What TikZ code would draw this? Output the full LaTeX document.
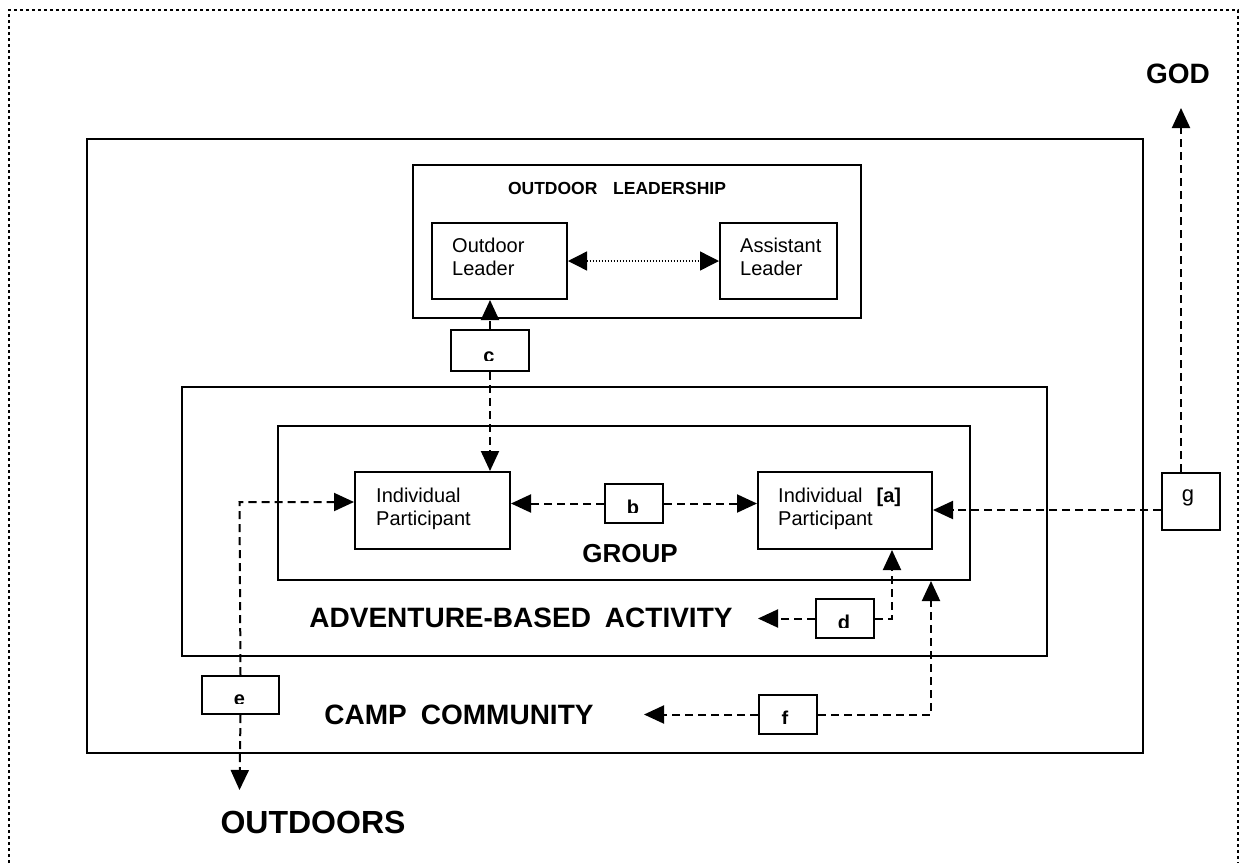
\documentclass[tikz,border=0pt]{standalone}
\usepackage{fontspec}
\setmainfont{Liberation Sans}
\usetikzlibrary{arrows.meta}

\begin{document}
\begin{tikzpicture}[x=1pt, y=-1pt,
  frame/.style={draw, line width=2pt, inner sep=0pt, anchor=north west},
  border/.style={draw, line width=2.8pt, dash pattern=on 2.8pt off 3.2pt},
  link/.style={line width=2pt, dash pattern=on 8pt off 5pt},
  tip/.style={-{Triangle[length=20pt,width=18pt]}},
  leaders/.style={line width=1.4pt, dash pattern=on 1.4pt off 1.6pt,
    {Triangle[length=19pt,width=19pt]}-{Triangle[length=19pt,width=19pt]}},
  lbl/.style={font=\fontsize{20}{23}\selectfont, inner sep=0pt, anchor=north west, align=left},
  head/.style={inner sep=0pt, anchor=base},
  tagletter/.style={inner sep=0pt, anchor=base, font=\bfseries\fontsize{20}{22}\selectfont}]

\useasboundingbox (0,0) rectangle (1245,863);

% page frame, open at the foot
\draw[border] (9,863) -- (9,10) -- (1238,10) -- (1238,863);

% nested settings
\node[frame, minimum width=1056, minimum height=614] (camp) at (86,138) {};
\node[frame, minimum width=865, minimum height=269] (adv) at (181,386) {};
\node[frame, minimum width=692, minimum height=154] (grp) at (277,425) {};
\node[frame, minimum width=448, minimum height=153] (lead) at (412,164) {};

% people
\node[frame, minimum width=135, minimum height=76] (ol) at (431,222) {};
\node[frame, minimum width=117, minimum height=76] (al) at (719,222) {};
\node[frame, minimum width=155, minimum height=77] (ipl) at (354,471) {};
\node[frame, minimum width=174, minimum height=77] (ipr) at (757,471) {};

\node[lbl] (olt) at (452,237.5) {Outdoor\\Leader};
\node[lbl] (alt) at (740,237.5) {Assistant\\Leader};
\node[lbl] (iplt) at (376,487.5) {Individual\\Participant};
\node[lbl] (iprt) at (778,487.5) {Individual\hspace{0.7em}\textbf{[a]}\\Participant};

% relation tags
\node[frame, minimum width=78, minimum height=41] (c) at (450,329) {};
\node[frame, minimum width=58, minimum height=39] (b) at (604,483) {};
\node[frame, minimum width=58, minimum height=39] (d) at (815,598) {};
\node[frame, minimum width=77, minimum height=38] (e) at (201,675) {};
\node[frame, minimum width=58, minimum height=39] (f) at (758,694) {};
\node[frame, minimum width=58, minimum height=57] (g) at (1161,472) {};

% tag letters, cut off by the text frame of each tag
\begin{scope}\clip (450,329) rectangle (528,360);
  \node[tagletter] (cl) at (489,362) {c};\end{scope}
\begin{scope}\clip (604,483) rectangle (662,512);
  \node[tagletter] (bl) at (633,514) {b};\end{scope}
\begin{scope}\clip (815,598) rectangle (873,627);
  \node[tagletter] (dl) at (844,629) {d};\end{scope}
\begin{scope}\clip (201,675) rectangle (278,703);
  \node[tagletter] (el) at (239.5,705) {e};\end{scope}
\begin{scope}\clip (758,694) rectangle (816,723);
  \node[tagletter] (fl) at (785,725) {f};\end{scope}
\node[inner sep=0pt, anchor=base, font=\fontsize{22}{24}\selectfont] (gl) at (1188,501.5) {g};

% headings
\node[head, font=\bfseries\fontsize{17.5}{20}\selectfont] (leadtxt) at (617,194) {OUTDOOR\hspace{0.9em}LEADERSHIP};
\node[head, font=\bfseries\fontsize{26}{28}\selectfont] (grptxt) at (630,562) {GROUP};
\node[head, font=\bfseries\fontsize{28}{30}\selectfont] (advtxt) at (521,627) {ADVENTURE-BASED\hspace{0.5em}ACTIVITY};
\node[head, font=\bfseries\fontsize{28}{30}\selectfont] (camptxt) at (459,724) {CAMP\hspace{0.5em}COMMUNITY};
\node[head, font=\bfseries\fontsize{32}{34}\selectfont] (outdoors) at (313,833) {OUTDOORS};
\node[head, font=\bfseries\fontsize{28}{30}\selectfont] (god) at (1178,83) {GOD};

% connector end points
\coordinate (eturn) at (239.5,502);
\coordinate (outdoorsTip) at (239.5,790);
\coordinate (dturn) at (892,618);
\coordinate (advTip) at (758,618);
\coordinate (fturn) at (931,713);
\coordinate (campTip) at (644,713);
\coordinate (gout) at (1161,510);
\coordinate (gup) at (1181,472);
\coordinate (godTip) at (1181,108);

% connectors
\draw[leaders] (ol.east) -- (al.west);
\draw[link, tip] (c.north) -- (c.north |- ol.south);
\draw[link, tip] (c.south) -- (c.south |- ipl.north);
\draw[link, tip] (b.west) -- (b.west -| ipl.east);
\draw[link, tip] (b.east) -- (b.east -| ipr.west);
\draw[link, tip] (e.north) -- (eturn) -- (eturn -| ipl.west);
\draw[link, tip] (e.south) -- (outdoorsTip);
\draw[link, tip] (d.east) -- (d.east -| dturn) -- (dturn |- ipr.south);
\draw[link, tip] (d.west) -- (d.west -| advTip);
\draw[link, tip] (f.east) -- (f.east -| fturn) -- (fturn |- grp.south);
\draw[link, tip] (f.west) -- (f.west -| campTip);
\draw[link, tip] (gout) -- (gout -| ipr.east);
\draw[link, tip] (gup) -- (godTip);
\end{tikzpicture}
\end{document}
